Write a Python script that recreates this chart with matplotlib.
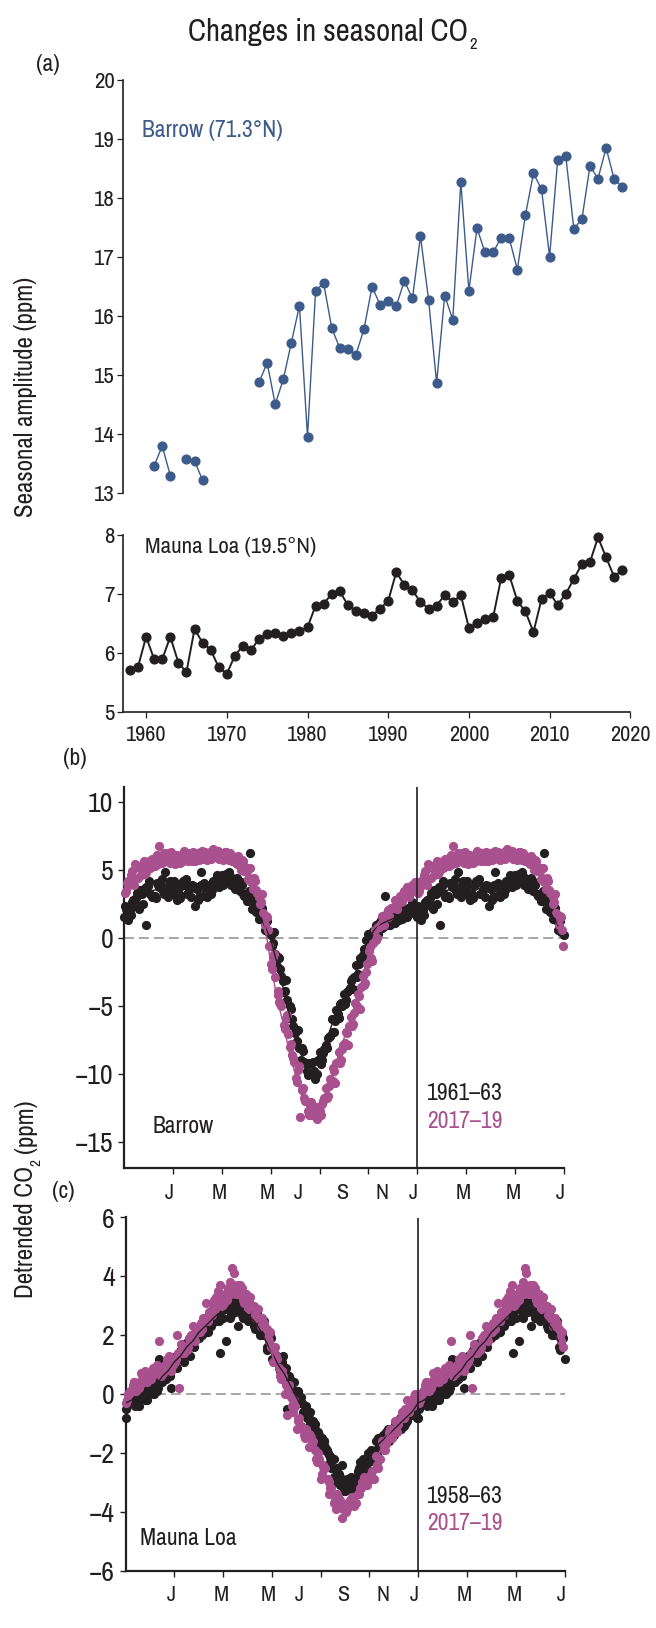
import numpy as np
import matplotlib
matplotlib.use("Agg")
import matplotlib.pyplot as plt
from matplotlib.ticker import FixedLocator, FixedFormatter

W, H = 656, 1628
FONT = ['Archivo Narrow', 'Roboto Condensed', 'Liberation Sans', 'DejaVu Sans']
plt.rcParams['font.family'] = FONT
plt.rcParams['axes.unicode_minus'] = True

INK = '#231f20'
BLUE = '#3d5b8a'
MAG = '#a9508e'
GREY = '#8e8e8e'
nan = np.nan

# ---------------- panel (a) data ----------------
barrow_years = list(range(1961, 2020))
barrow_amp = [13.47, 13.80, 13.30, nan, 13.58, 13.55, 13.22, nan, nan, nan, nan, nan, nan,
              14.88, 15.21, 14.51, 14.93, 15.55, 16.18, 13.96, 16.43, 16.56, 15.80, 15.46,
              15.44, 15.35, 15.78, 16.50, 16.19, 16.25, 16.17, 16.60, 16.30, 17.35, 16.28,
              14.87, 16.35, 15.94, 18.27, 16.43, 17.49, 17.08, 17.08, 17.33, 17.32, 16.79,
              17.71, 18.42, 18.15, 17.01, 18.65, 18.72, 17.48, 17.64, 18.54, 18.33, 18.85,
              18.32, 18.19]
mlo_years = list(range(1958, 2020))
mlo_amp = [5.70, 5.76, 6.27, 5.89, 5.89, 6.27, 5.83, 5.67, 6.40, 6.17,
           6.05, 5.75, 5.64, 5.95, 6.12, 6.04, 6.24, 6.31, 6.33, 6.29,
           6.33, 6.36, 6.43, 6.80, 6.83, 7.00, 7.04, 6.81, 6.71, 6.68,
           6.63, 6.75, 6.88, 7.37, 7.15, 7.06, 6.86, 6.75, 6.80, 6.98,
           6.86, 6.98, 6.42, 6.50, 6.57, 6.60, 7.27, 7.32, 6.88, 6.70,
           6.35, 6.91, 7.02, 6.81, 7.00, 7.25, 7.51, 7.54, 7.96, 7.62,
           7.29, 7.41]
year_ticks = [1960, 1970, 1980, 1990, 2000, 2010, 2020]

# ---------------- panels (b), (c) data ----------------
# detrended CO2 sampled every quarter month (months since 1 Jan), one row per sampling pass
sample_step = 0.25
month_tick_pos = [2, 4, 6, 8, 10, 12, 14, 16, 18]
month_label_pos = [1.87, 3.9, 5.85, 7.12, 8.93, 10.55, 11.83, 13.88, 15.92, 17.85]
month_labels = ['J', 'M', 'M', 'J', 'S', 'N', 'J', 'M', 'M', 'J']

brw_early_offsets = [0.0, 0.08, 0.17, 0.04, 0.13]
brw_early = [
    [1.5, 2.0, 2.9, 3.2, 3.8, 3.1, 3.9, 3.3, 3.7, 3.2, 4.1, 3.0, 3.6, 3.1, 3.9, 4.2,
     4.6, 4.1, 4.3, 3.4, 3.2, 2.1, 1.9, 0.6, 0.2, -2.1, -3.2, -5.9, -7.0, -9.0, -9.8, -9.1,
     -8.4, -7.9, -6.0, -5.6, -4.1, -3.7, -2.0, -1.4, 0.3, 0.4, 1.3, 0.9, 1.7, 1.3, 2.0, 1.8],
    [2.1, 2.6, 2.3, 3.6, 3.2, 4.0, 3.4, 3.9, 3.3, 3.8, 3.2, 3.8, 3.0, 3.7, 3.5, 3.8,
     4.0, 4.5, 3.8, 3.9, 2.7, 2.6, 1.4, 1.2, -0.4, -1.5, -3.9, -5.2, -7.6, -8.3, -9.2, -10.4,
     -9.0, -7.4, -6.9, -4.9, -4.6, -3.0, -2.7, -0.8, -0.5, 0.9, 0.8, 1.5, 1.1, 1.9, 1.5, 2.4],
    [1.3, 2.4, 3.5, 0.9, 3.1, 3.7, 4.8, 3.2, 2.8, 4.2, 3.6, 2.3, 4.8, 3.6, 4.1, 4.4,
     4.7, 4.2, 3.9, 3.1, 6.2, 1.9, 1.3, 0.4, -1.2, -2.8, -4.6, -6.5, -8.1, -9.2, -9.9, -9.0,
     -8.2, -7.2, -5.3, -5.0, -3.9, -2.9, -1.5, -0.2, 0.5, 1.1, 3.1, 1.1, 1.6, 2.0, 1.8, 2.3],
    [2.3, 1.7, 3.3, 2.5, 4.2, 2.9, 4.3, 3.0, 4.2, 2.9, 4.3, 3.9, 2.8, 4.0, 3.2, 4.6,
     3.9, 4.8, 3.6, 4.1, 2.7, 2.9, 1.4, 1.3, -0.6, -1.4, -4.0, -5.0, -7.7, -8.1, -10.1, -9.8,
     -9.3, -8.1, -6.9, -5.9, -4.9, -3.2, -2.9, -1.3, 0.2, 0.9, 0.7, 1.6, 1.2, 2.1, 1.5, 2.6],
    [1.9, 2.8, 2.1, 3.7, 3.0, 3.9, 3.2, 4.2, 3.1, 4.0, 3.3, 3.8, 3.9, 3.0, 4.2, 3.7,
     4.5, 3.9, 4.4, 3.2, 3.4, 2.0, 2.2, 0.4, 0.4, -2.3, -3.1, -6.0, -6.8, -9.1, -9.2, -10.0,
     -8.5, -7.3, -6.1, -4.8, -4.0, -3.8, -1.9, -0.9, -0.4, 0.3, 1.2, 0.9, 1.8, 1.4, 2.2, 1.9],
]
brw_late_offsets = [0.03, 0.11, 0.19, 0.07, 0.15]
brw_late = [
    [3.3, 4.6, 5.2, 5.0, 5.6, 5.3, 6.0, 5.6, 5.9, 5.5, 6.1, 5.6, 6.2, 5.8, 6.3, 5.9,
     6.2, 5.7, 5.9, 5.0, 4.9, 3.6, 3.0, 0.9, -1.9, -4.2, -6.4, -8.0, -10.3, -11.2, -12.7, -12.6,
     -12.7, -11.0, -10.5, -8.4, -7.7, -5.8, -5.0, -2.8, -1.0, 0.6, 1.0, 2.0, 2.2, 3.1, 3.1, 3.9],
    [4.0, 4.1, 5.3, 4.7, 5.2, 6.1, 5.6, 6.0, 5.5, 6.1, 5.6, 6.2, 5.8, 6.2, 5.9, 6.4,
     5.8, 6.1, 5.4, 5.6, 4.4, 4.2, 2.6, 1.5, -1.4, -4.7, -5.9, -8.6, -9.7, -11.8, -12.2, -13.1,
     -12.2, -11.6, -9.8, -9.0, -7.0, -6.3, -4.3, -3.3, -1.5, 0.0, 1.4, 1.6, 2.6, 2.7, 3.5, 3.5],
    [3.9, 5.4, 4.6, 5.5, 5.3, 6.7, 5.8, 6.3, 5.9, 6.4, 5.8, 6.1, 6.4, 5.9, 6.3, 5.9,
     6.3, 5.6, 5.7, 5.2, 4.1, 3.3, 1.8, -0.6, -2.9, -5.0, -7.1, -9.1, -13.2, -12.0, -13.0, -12.4,
     -11.8, -10.4, -9.2, -7.9, -6.5, -4.8, -3.6, -1.9, -0.4, 0.8, 1.7, 2.2, 2.8, 3.4, 3.6, 4.0],
    [3.4, 4.9, 4.4, 5.6, 5.1, 5.9, 5.5, 6.2, 5.4, 6.0, 5.7, 6.3, 5.7, 6.3, 5.8, 6.4,
     5.7, 6.2, 5.5, 5.7, 4.3, 4.4, 2.5, 1.6, -2.3, -3.9, -6.7, -7.8, -10.6, -11.0, -13.0, -12.4,
     -13.0, -11.8, -9.6, -9.2, -6.9, -6.5, -4.1, -3.5, -0.7, -0.2, 1.6, 1.5, 2.8, 2.6, 3.7, 3.4],
    [4.2, 3.9, 5.3, 4.8, 5.8, 5.4, 6.2, 5.5, 6.1, 5.6, 6.2, 5.6, 6.3, 5.7, 6.5, 5.8,
     6.3, 5.6, 6.0, 4.9, 5.1, 3.5, 3.2, 0.6, -1.2, -4.9, -5.7, -8.8, -9.4, -12.0, -12.1, -13.3,
     -12.0, -10.9, -10.7, -8.2, -7.9, -5.5, -5.2, -2.5, -1.7, 0.8, 0.9, 2.1, 2.1, 3.2, 3.0, 4.1],
]
brw_early_curve = [1.8, 2.2, 2.6, 3.0, 3.4, 3.5, 3.6, 3.6, 3.5, 3.5, 3.6, 3.4, 3.3, 3.4, 3.7, 4.0,
                   4.3, 4.3, 4.0, 3.6, 3.0, 2.4, 1.7, 0.9, -0.1, -1.8, -3.6, -5.5, -7.2, -8.6,
                   -9.5, -9.4, -8.8, -7.7, -6.4, -5.3, -4.4, -3.4, -2.4, -1.1, -0.1, 0.6, 1.0,
                   1.2, 1.4, 1.6, 1.8, 2.1]
brw_late_curve = [3.7, 4.3, 4.8, 5.1, 5.4, 5.7, 5.9, 5.8, 5.7, 5.8, 5.9, 5.9, 6.0, 6.0, 6.1, 6.1,
                  6.0, 5.9, 5.7, 5.3, 4.7, 3.9, 2.9, 1.0, -1.8, -4.4, -6.2, -8.3, -10.0, -11.5,
                  -12.5, -12.9, -12.5, -11.3, -10.2, -8.7, -7.4, -6.0, -4.7, -3.0, -1.2, 0.3,
                  1.2, 1.8, 2.4, 2.9, 3.3, 3.7]

mlo_early_offsets = [0.0, 0.06, 0.12, 0.19, 0.03, 0.15]
mlo_early = [
    [-0.8, -0.3, -0.2, 0.1, 0.0, 0.5, 0.4, 0.9, 1.0, 1.5, 1.4, 2.0, 1.9, 2.5, 2.3, 2.9,
     2.6, 3.1, 2.8, 3.1, 2.5, 2.7, 2.0, 2.0, 1.2, 1.2, 0.5, 0.5, -0.3, -0.3, -1.1, -1.0,
     -1.9, -1.9, -2.5, -2.7, -3.3, -2.8, -2.9, -2.2, -2.3, -1.6, -1.8, -1.2, -1.4, -0.8, -0.9, -0.5],
    [-0.4, 0.0, -0.4, 0.2, 0.2, 0.2, 0.8, 0.6, 1.3, 1.2, 1.8, 1.6, 2.3, 2.1, 2.7, 2.5,
     3.0, 2.7, 3.3, 2.6, 2.9, 2.2, 2.4, 1.5, 1.6, 0.8, 0.9, 0.0, 0.1, -0.7, -0.6, -1.5,
     -1.5, -2.4, -2.2, -3.1, -2.9, -3.3, -2.5, -2.6, -1.9, -2.0, -1.4, -1.6, -1.0, -1.2, -0.6, -0.7],
    [-0.1, -0.4, 0.1, -0.2, 0.3, 1.2, 0.5, 0.2, 0.9, 1.7, 1.3, 2.2, 2.4, 2.1, 2.9, 1.4,
     1.8, 3.3, 2.3, 3.2, 2.6, 2.8, 2.0, 1.7, 1.1, 1.0, -0.5, 0.4, -0.3, -0.4, -1.2, -1.7,
     -1.6, -2.1, -3.0, -2.4, -2.9, -3.1, -2.3, -2.5, -2.2, -1.5, -1.7, -1.3, -1.1, -0.9, -0.5, -0.4],
    [-0.3, 0.1, -0.1, 0.3, 0.4, 0.7, 0.9, 1.2, 1.4, 1.4, 1.9, 2.0, 2.2, 2.6, 2.5, 2.9,
     3.2, 2.9, 3.4, 3.0, 2.8, 2.4, 2.5, 1.9, 1.3, 1.3, 0.6, 0.1, -0.1, -0.8, -0.9, -1.4,
     -1.8, -2.5, -2.7, -3.3, -3.2, -2.8, -2.6, -2.0, -2.0, -1.7, -1.3, -1.4, -0.9, -1.0, -0.7, -0.8],
    [-0.5, 0.0, 0.1, -0.2, 0.3, 0.1, 0.8, 0.6, 1.0, 1.5, 1.5, 1.7, 2.3, 2.2, 2.4, 2.8,
     2.9, 2.6, 3.2, 2.7, 2.8, 2.3, 2.3, 1.6, 1.5, 0.9, 0.8, 0.2, 0.0, -0.6, -0.8, -1.2,
     -1.8, -2.0, -2.8, -2.8, -3.0, -3.2, -2.6, -2.5, -2.0, -1.9, -1.5, -1.5, -1.3, -0.9, -0.9, -0.5],
    [-0.2, -0.3, 0.0, 0.2, 0.0, 0.4, 0.5, 1.0, 1.2, 1.1, 1.7, 1.9, 2.0, 2.4, 2.6, 2.6,
     2.9, 3.0, 2.9, 3.1, 2.6, 2.6, 2.1, 2.0, 1.3, 1.1, 0.6, 0.4, -0.2, -0.4, -1.0, -1.3,
     -1.6, -2.3, -2.5, -3.0, -3.2, -2.9, -2.8, -2.3, -2.2, -1.7, -1.7, -1.3, -1.1, -1.1, -0.7, -0.7],
]
mlo_late_offsets = [0.03, 0.11, 0.19, 0.07, 0.15]
mlo_late = [
    [-0.3, 0.3, 0.2, 0.8, 0.5, 1.0, 0.7, 1.3, 1.1, 1.7, 1.5, 2.3, 2.1, 3.1, 2.7, 3.5,
     3.1, 3.8, 3.4, 3.6, 2.9, 3.0, 2.3, 2.2, 1.1, 0.9, 0.0, -0.1, -1.2, -1.2, -1.8, -1.9,
     -2.9, -2.9, -3.7, -3.6, -4.0, -3.5, -3.4, -2.8, -2.9, -2.1, -1.6, -1.5, -0.9, -0.8, -0.2, -0.4],
    [0.0, 0.4, 0.7, 0.4, 0.9, 1.8, 1.0, 0.8, 2.0, 1.4, 1.9, 1.8, 2.4, 2.5, 3.2, 3.7,
     3.3, 4.3, 3.4, 3.1, 3.3, 2.6, 2.6, 1.8, 1.6, 0.5, -0.7, -0.6, -0.8, -1.5, -1.4, -2.3,
     -2.4, -3.4, -3.9, -4.2, -3.7, -3.8, -3.2, -3.1, -2.6, -2.5, -1.9, -1.2, -1.3, -0.6, -0.6, 0.0],
    [0.1, 0.1, 0.5, 0.6, 0.8, 0.6, 1.2, 1.0, 0.2, 1.6, 2.0, 2.1, 2.6, 2.8, 3.3, 3.0,
     3.6, 4.1, 3.7, 3.4, 3.0, 2.9, 2.4, 1.6, 1.2, 0.6, 0.3, -0.4, -1.1, -1.3, -1.6, -2.2,
     -2.5, -3.2, -3.5, -3.9, -3.6, -3.7, -3.0, -2.9, -2.9, -2.2, -1.7, -1.5, -1.0, -0.5, -0.3, -0.1],
    [-0.2, 0.4, 0.3, 0.7, 0.6, 0.9, 0.8, 1.2, 1.2, 1.6, 1.6, 1.9, 2.4, 2.6, 3.1, 3.1,
     3.4, 3.4, 3.7, 3.2, 3.2, 2.7, 2.6, 1.9, 1.5, 0.6, 0.3, -0.4, -0.9, -1.4, -1.5, -2.2,
     -2.7, -3.0, -3.6, -3.7, -3.9, -3.5, -3.4, -2.9, -2.7, -2.4, -1.7, -1.3, -1.2, -0.6, -0.5, -0.1],
    [0.0, 0.1, 0.5, 0.5, 0.8, 0.7, 1.0, 1.0, 1.4, 1.4, 1.8, 2.1, 2.2, 2.8, 2.9, 3.3,
     3.2, 3.6, 3.5, 3.4, 3.0, 2.9, 2.4, 2.1, 1.3, 0.8, 0.1, -0.2, -1.1, -1.2, -1.7, -2.0,
     -2.5, -3.2, -3.4, -3.9, -3.7, -3.7, -3.2, -3.1, -2.9, -2.2, -1.9, -1.5, -1.0, -0.8, -0.3, -0.3],
]
mlo_early_curve = [-0.3, -0.2, -0.1, 0.0, 0.1, 0.3, 0.6, 0.8, 1.1, 1.3, 1.6, 1.8, 2.1, 2.3, 2.5,
                   2.7, 2.8, 2.9, 3.0, 2.9, 2.7, 2.5, 2.2, 1.8, 1.4, 1.0, 0.7, 0.3, -0.1, -0.5,
                   -0.9, -1.3, -1.7, -2.2, -2.6, -2.9, -3.1, -3.0, -2.7, -2.4, -2.1, -1.8, -1.6,
                   -1.4, -1.2, -1.0, -0.8, -0.6]
mlo_late_curve = [-0.1, 0.2, 0.4, 0.6, 0.7, 0.8, 0.9, 1.1, 1.3, 1.5, 1.7, 2.0, 2.3, 2.7, 3.0,
                  3.2, 3.3, 3.5, 3.6, 3.3, 3.1, 2.8, 2.5, 2.0, 1.4, 0.7, 0.2, -0.3, -1.0, -1.3,
                  -1.6, -2.1, -2.6, -3.1, -3.5, -3.8, -3.8, -3.6, -3.3, -3.0, -2.8, -2.3, -1.8,
                  -1.4, -1.1, -0.7, -0.4, -0.2]

# ---------------- figure ----------------
fig = plt.figure(figsize=(W / 100, H / 100), dpi=100)


def px_axes(l, r, t, b):
    return fig.add_axes([l / W, 1 - b / H, (r - l) / W, (b - t) / H])


def ftext(x, y, s, **kw):
    return fig.text(x / W, 1 - y / H, s, **kw)


def style(ax, lw=1.2):
    for s in ['top', 'right']:
        ax.spines[s].set_visible(False)
    for s in ['left', 'bottom']:
        ax.spines[s].set_linewidth(lw)
        ax.spines[s].set_color(INK)
    ax.patch.set_alpha(0)


# (a) upper: Barrow
axA1 = px_axes(122.7, 630.3, 80, 493.3)
style(axA1)
axA1.spines['bottom'].set_visible(False)
axA1.plot(barrow_years, barrow_amp, color=BLUE, lw=1.0, marker='o', ms=6.3,
          mec=BLUE, mfc=BLUE, clip_on=False)
axA1.set_xlim(1957.1, 2020)
axA1.set_ylim(13, 20)
axA1.set_yticks(range(13, 21))
axA1.set_xticks([])
axA1.tick_params(axis='y', direction='out', length=4.3, width=0.9, pad=1.5,
                 labelsize=16.5, colors=INK)

# (a) lower: Mauna Loa
axA2 = px_axes(122.7, 630.3, 535, 711.5)
style(axA2)
axA2.plot(mlo_years, mlo_amp, color=INK, lw=1.4, marker='o', ms=6.3,
          mec=INK, mfc=INK, clip_on=False)
axA2.set_xlim(1957.1, 2020)
axA2.set_ylim(5, 8)
axA2.set_yticks([5, 6, 7, 8])
axA2.set_xticks(year_ticks)
axA2.tick_params(axis='y', direction='out', length=4.3, width=0.9, pad=1.5,
                 labelsize=16.5, colors=INK)
axA2.tick_params(axis='x', direction='out', length=4.3, width=0.9, pad=5.5,
                 labelsize=16, colors=INK)


def seasonal_panel(ax, early_rows, early_offs, late_rows, late_offs,
                   early_curve, late_curve, ylim, yticks, lab_pad):
    style(ax, lw=1.6)
    grid = np.arange(len(early_curve)) * sample_step
    ax.axhline(0, color=GREY, lw=1.1, dashes=(6.5, 3.3), zorder=1)
    for rows, offs, col, z in [(early_rows, early_offs, INK, 3),
                               (late_rows, late_offs, MAG, 4)]:
        xs, ys = [], []
        for row, off in zip(rows, offs):
            x = grid + off
            y = np.array(row)
            xs.append(x)
            ys.append(y)
            rep = x + 12 <= 18.02
            xs.append(x[rep] + 12)
            ys.append(y[rep])
        ax.scatter(np.concatenate(xs), np.concatenate(ys), s=44, c=col,
                   linewidths=0, zorder=z, clip_on=False)
    for curve, col in [(early_curve, INK), (late_curve, MAG)]:
        c = np.array(curve + [curve[0]])
        xg = np.append(grid, 12.0)
        ax.plot(xg, c, color=col, lw=1.0, zorder=5)
        n = int(round(5.75 / sample_step)) + 1
        ax.plot(xg[:n] + 12, c[:n], color=col, lw=1.0, zorder=5)
    ax.axvline(12, color=INK, lw=1.2, zorder=6)
    ax.set_xlim(0, 18)
    ax.set_ylim(*ylim)
    ax.set_yticks(yticks)
    ax.xaxis.set_major_locator(FixedLocator(month_label_pos))
    ax.xaxis.set_major_formatter(FixedFormatter(month_labels))
    ax.xaxis.set_minor_locator(FixedLocator(month_tick_pos))
    ax.tick_params(axis='x', which='major', length=0, pad=lab_pad, labelsize=16,
                   colors=INK)
    ax.tick_params(axis='x', which='minor', direction='out', length=4.2, width=1.0,
                   colors=INK)
    ax.tick_params(axis='y', direction='out', length=4.2, width=1.0, pad=3.6,
                   labelsize=20, colors=INK)


axB = px_axes(124, 564, 786.7, 1168)
seasonal_panel(axB, brw_early, brw_early_offsets, brw_late, brw_late_offsets,
               brw_early_curve, brw_late_curve, (-16.91, 11.09),
               [-15, -10, -5, 0, 5, 10], 11.0)

axC = px_axes(125.7, 564.5, 1217.5, 1570.7)
seasonal_panel(axC, mlo_early, mlo_early_offsets, mlo_late, mlo_late_offsets,
               mlo_early_curve, mlo_late_curve, (-6, 6),
               [-6, -4, -2, 0, 2, 4, 6], 10.0)

# ---------------- texts ----------------
renderer = fig.canvas.get_renderer()

t = ftext(328.5, 40.7, 'Changes in seasonal CO', ha='center', va='baseline',
          fontsize=22, color=INK)
bb = t.get_window_extent(renderer)
fig.text((bb.x1 + 1) / W, 1 - 49 / H, '2', ha='left', va='baseline', fontsize=12,
         color=INK)

ftext(48, 71, '(a)', ha='center', va='baseline', fontsize=17, color=INK)
ftext(75, 765, '(b)', ha='center', va='baseline', fontsize=17, color=INK)
ftext(63, 1198.5, '(c)', ha='center', va='baseline', fontsize=17, color=INK)

ftext(141.7, 137.3, 'Barrow (71.3°N)', ha='left', va='baseline', fontsize=17, color=BLUE)
ftext(145, 553.3, 'Mauna Loa (19.5°N)', ha='left', va='baseline', fontsize=16.5, color=INK)

ftext(153, 1132.7, 'Barrow', ha='left', va='baseline', fontsize=17, color=INK)
ftext(427, 1100, '1961–63', ha='left', va='baseline', fontsize=17, color=INK)
ftext(427, 1128.3, '2017–19', ha='left', va='baseline', fontsize=17, color=MAG)

ftext(140, 1545, 'Mauna Loa', ha='left', va='baseline', fontsize=17, color=INK)
ftext(427, 1503, '1958–63', ha='left', va='baseline', fontsize=17, color=INK)
ftext(427, 1530, '2017–19', ha='left', va='baseline', fontsize=17, color=MAG)

ftext(33.5, 397, 'Seasonal amplitude (ppm)', rotation=90, rotation_mode='anchor',
      ha='center', va='baseline', fontsize=18, color=INK)


def text_len(s, fs):
    tt = fig.text(0, 0, s, fontsize=fs)
    w = tt.get_window_extent(renderer).width
    tt.remove()
    return w


p1, p2, p3 = 'Detrended CO', '2', '(ppm)'
fs_main, fs_sub = 18, 11
w1, w2, w3 = text_len(p1, fs_main), text_len(p2, fs_sub), text_len(p3, fs_main)
gap = text_len('a a', fs_main) - 2 * text_len('a', fs_main)
total = w1 + w2 + gap + w3
xb = 33.3
yc_disp = H - 1199
y0 = yc_disp - total / 2
common = dict(rotation=90, rotation_mode='anchor', ha='left', va='baseline', color=INK)
fig.text(xb / W, y0 / H, p1, fontsize=fs_main, **common)
fig.text((xb + 7) / W, (y0 + w1) / H, p2, fontsize=fs_sub, **common)
fig.text(xb / W, (y0 + w1 + w2 + gap) / H, p3, fontsize=fs_main, **common)

fig.savefig('out.png', dpi=100)
